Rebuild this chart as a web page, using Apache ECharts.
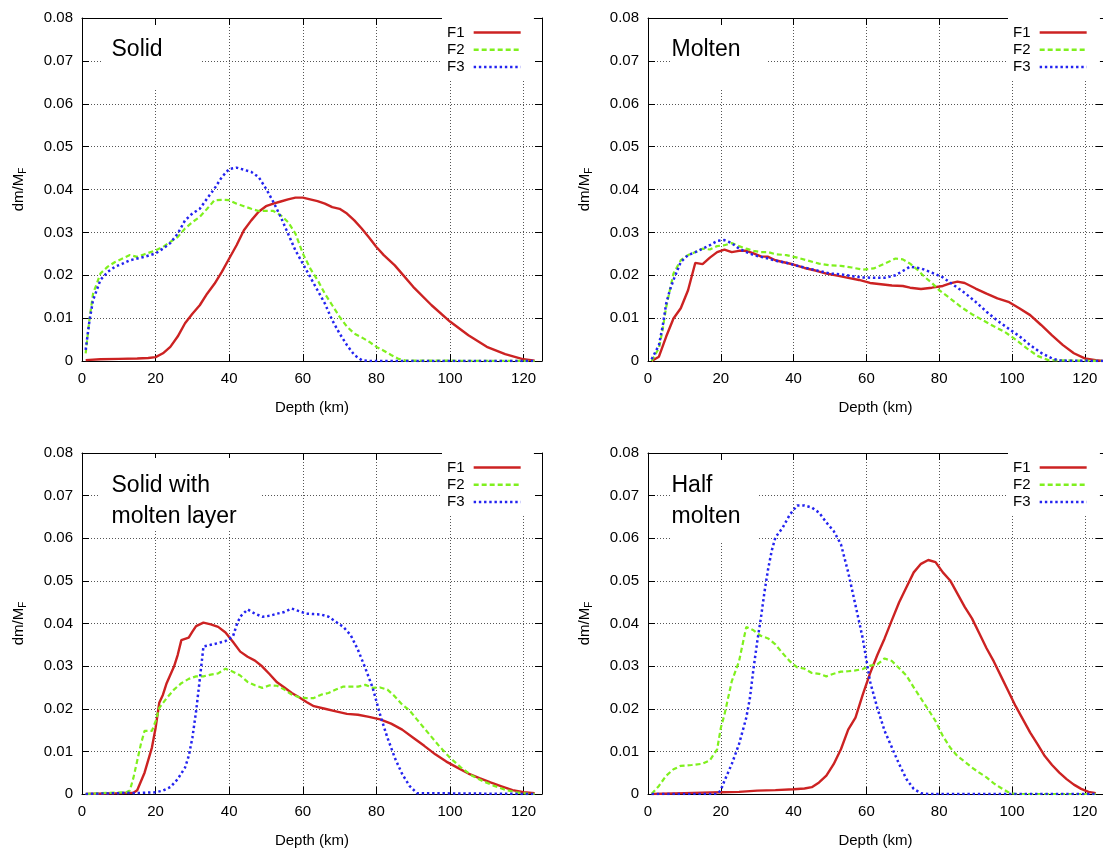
<!DOCTYPE html>
<html>
<head>
<meta charset="utf-8">
<script src="https://cdn.jsdelivr.net/npm/echarts@6/dist/echarts.min.js"></script>
<style>
html,body{margin:0;padding:0;background:#fff;}
#chart{width:1103px;height:849px;}
</style>
</head>
<body>
<div id="chart"></div>
<script>
// ---------------- DATA ----------------
const panelTitles = ['Solid', 'Molten', 'Solid with\nmolten layer', 'Half\nmolten'];
const seriesNames = ['F1', 'F2', 'F3'];
const xTicks = [0, 20, 40, 60, 80, 100, 120];
const yTicks = [0, 0.01, 0.02, 0.03, 0.04, 0.05, 0.06, 0.07, 0.08];

// Solid
const solidF1Depth = [1,5,10,15,18,20,22,24,26,28,30,32,34,36,38,40,42,44,46,48,50,52,54,56,58,60,62,64,66,68,70,72,74,76,78,80,82,85,90,95,100,105,110,115,120,123];
const solidF1 = [0.0002,0.0004,0.0005,0.0006,0.0007,0.0009,0.0018,0.0033,0.0057,0.0088,0.011,0.013,0.0157,0.018,0.0208,0.0239,0.027,0.0305,0.0328,0.0348,0.0361,0.0367,0.0372,0.0377,0.0381,0.0381,0.0377,0.0373,0.0367,0.0359,0.0355,0.0344,0.0328,0.0309,0.0288,0.0266,0.0247,0.0223,0.0173,0.013,0.0092,0.006,0.0033,0.0016,0.0004,0.0001];
const solidF2Depth = [1,2,3,4,5,7,9,11,13,15,17,20,22,24,26,28,30,32,34,36,38,40,42,44,46,48,50,52,54,56,58,60,62,64,66,68,70,72,74,76,78,80,82,84,86,88,123];
const solidF2 = [0.0018,0.0095,0.0157,0.018,0.0204,0.022,0.0231,0.0239,0.0247,0.0243,0.0249,0.0258,0.0266,0.0278,0.0289,0.0309,0.0324,0.0336,0.0355,0.0375,0.0376,0.0375,0.0367,0.0361,0.0355,0.035,0.035,0.035,0.034,0.0324,0.0297,0.0251,0.0216,0.0189,0.0157,0.013,0.0103,0.008,0.0064,0.0055,0.0045,0.0033,0.0024,0.0014,0.0005,0.0001,0];
const solidF3Depth = [1,2,3,4,5,7,9,11,13,15,17,20,22,24,26,28,30,32,34,36,38,40,42,44,46,48,50,52,54,56,58,60,62,64,66,68,70,72,74,76,78,123];
const solidF3 = [0.0026,0.0092,0.0142,0.0165,0.0189,0.0208,0.022,0.0227,0.0235,0.0239,0.0243,0.0251,0.0262,0.0275,0.0297,0.0328,0.0344,0.0355,0.0379,0.0402,0.0429,0.0448,0.0451,0.0446,0.0441,0.0429,0.0402,0.0371,0.0336,0.0297,0.0258,0.0227,0.0196,0.0165,0.0134,0.0095,0.0064,0.0037,0.0014,0.0002,0,0];

// Molten
const moltenF1Depth = [1,3,5,7,9,11,13,15,17,19,21,23,25,27,29,31,33,35,37,40,43,46,49,52,55,58,61,64,67,70,72,75,78,81,83,85,87,90,93,96,99,102,105,108,111,114,117,120,123,125];
const moltenF1 = [0,0.001,0.0057,0.0099,0.0123,0.0165,0.0229,0.0226,0.0241,0.0254,0.026,0.0254,0.0257,0.0257,0.0251,0.0244,0.0243,0.0235,0.0231,0.0225,0.0217,0.0211,0.0204,0.0199,0.0194,0.0189,0.0182,0.0179,0.0176,0.0175,0.0171,0.0168,0.0171,0.0175,0.0181,0.0185,0.0182,0.0169,0.0157,0.0146,0.0138,0.0123,0.0107,0.0084,0.006,0.0037,0.0018,0.0006,0.0002,0];
const moltenF2Depth = [1,3,4,5,6,7,9,11,13,15,17,19,21,23,25,27,29,31,33,35,38,41,44,47,50,53,56,59,62,65,68,70,72,74,76,78,80,83,86,89,92,95,98,101,104,107,110,125];
const moltenF2 = [0,0.003,0.0072,0.0126,0.0165,0.0204,0.0235,0.0247,0.0254,0.0262,0.026,0.0268,0.027,0.0275,0.0268,0.0262,0.0257,0.0254,0.0254,0.0249,0.0247,0.0241,0.0234,0.0227,0.0223,0.0222,0.0218,0.0213,0.0216,0.0227,0.0239,0.0237,0.0227,0.0213,0.0196,0.0182,0.0165,0.0146,0.0126,0.0109,0.0095,0.0081,0.0068,0.005,0.003,0.0012,0.0002,0];
const moltenF3Depth = [1,3,4,5,6,7,9,11,13,15,17,19,21,23,25,27,29,31,33,35,38,41,44,47,50,53,56,59,62,65,68,70,72,75,78,81,84,87,90,93,96,99,102,105,108,111,113,125];
const moltenF3 = [0.0004,0.0037,0.008,0.0134,0.0165,0.0189,0.0231,0.0247,0.0254,0.0262,0.027,0.028,0.0282,0.0275,0.0262,0.0254,0.0247,0.0243,0.0239,0.0234,0.0229,0.0222,0.0216,0.021,0.0204,0.0202,0.0198,0.0195,0.0194,0.0194,0.02,0.021,0.022,0.0216,0.0206,0.0195,0.0177,0.0159,0.0138,0.0115,0.0094,0.0076,0.0058,0.0037,0.0019,0.0006,0.0001,0];

// Solid with molten layer
const layerF1Depth = [1,10,14,15,17,19,20,21,22,23,25,26,27,29,30,31,33,35,37,39,41,43,45,47,49,51,53,55,57,59,61,63,66,69,72,75,78,81,84,87,90,93,96,99,102,105,108,111,114,117,120,123];
const layerF1 = [0,0.0002,0.0003,0.0009,0.005,0.0109,0.0155,0.0214,0.0233,0.026,0.0299,0.0326,0.0361,0.0367,0.0381,0.0394,0.0402,0.0398,0.0392,0.0379,0.0357,0.0334,0.0322,0.0313,0.0299,0.0281,0.0262,0.025,0.0237,0.0227,0.0216,0.0206,0.02,0.0194,0.0188,0.0186,0.0181,0.0175,0.0165,0.0151,0.0132,0.0113,0.0093,0.0076,0.0062,0.0048,0.0037,0.0027,0.0018,0.0009,0.0004,0.0002];
const layerF2Depth = [1,5,12,13,14,15,16,17,19,20,21,23,25,27,29,31,33,35,37,39,41,43,45,47,49,51,53,55,57,59,61,63,65,67,69,71,73,75,77,79,81,83,85,87,89,91,94,97,100,103,106,109,112,115,118,121,123];
const layerF2 = [0,0.0002,0.0004,0.0008,0.0039,0.0078,0.0117,0.0148,0.0148,0.0171,0.0202,0.0225,0.0245,0.026,0.027,0.0276,0.0276,0.028,0.0283,0.0294,0.0287,0.0278,0.0263,0.0255,0.0249,0.0255,0.0254,0.0245,0.0233,0.0227,0.0225,0.0225,0.0233,0.0237,0.0245,0.0252,0.0252,0.0252,0.0256,0.0249,0.025,0.0245,0.0229,0.021,0.0196,0.0175,0.0144,0.0113,0.0085,0.0062,0.0043,0.003,0.0019,0.001,0.0004,0.0001,0];
const layerF3Depth = [1,10,12,14,20,22,24,26,28,29,30,31,32,33,35,37,39,41,42,43,45,47,49,51,53,55,57,59,61,63,65,67,69,71,73,75,77,79,81,83,85,87,89,91,123];
const layerF3 = [0,0.0002,0.0003,0.0002,0.0004,0.0008,0.0016,0.0035,0.0062,0.0089,0.0132,0.0194,0.0268,0.0346,0.035,0.0354,0.0359,0.0369,0.0396,0.0416,0.0433,0.0423,0.0416,0.0418,0.0423,0.0427,0.0435,0.0429,0.0423,0.0422,0.0421,0.0416,0.0404,0.0392,0.0373,0.0338,0.0295,0.0249,0.0186,0.0132,0.0085,0.0047,0.0019,0.0002,0];

// Half molten
const halfF1Depth = [1,10,20,25,30,35,40,43,45,47,49,51,53,55,57,59,61,63,65,67,69,71,73,75,77,79,81,83,85,87,89,91,93,95,97,99,101,103,105,107,109,111,113,115,117,119,121,123];
const halfF1 = [0,0.0002,0.0004,0.0005,0.0008,0.0009,0.0011,0.0013,0.0016,0.0027,0.0043,0.007,0.0105,0.0151,0.0179,0.0233,0.0283,0.0326,0.0365,0.0408,0.045,0.0485,0.052,0.054,0.0549,0.0544,0.052,0.0501,0.047,0.0439,0.0412,0.0377,0.0342,0.0311,0.0276,0.0241,0.0206,0.0175,0.0144,0.0117,0.0089,0.0068,0.005,0.0035,0.0022,0.0012,0.0005,0.0002];
const halfF2Depth = [1,3,5,7,9,12,15,17,19,20,21,23,25,27,29,31,33,35,37,39,41,43,45,47,49,51,53,55,57,59,61,63,65,67,69,71,73,75,77,79,81,83,85,87,89,91,93,95,97,99,101,123];
const halfF2 = [0,0.0019,0.0043,0.0058,0.0066,0.0068,0.0071,0.0079,0.0105,0.0155,0.0186,0.0264,0.0311,0.0392,0.0384,0.0371,0.0365,0.0351,0.033,0.0311,0.0297,0.0294,0.0284,0.0282,0.0276,0.0282,0.0287,0.0288,0.029,0.0293,0.0301,0.0304,0.0318,0.0312,0.0295,0.0278,0.025,0.0224,0.0198,0.0171,0.0136,0.0109,0.0089,0.0076,0.0062,0.005,0.0039,0.0025,0.0014,0.0004,0,0];
const halfF3Depth = [1,19,20,21,23,25,27,28,29,30,31,32,33,34,35,37,39,41,43,45,47,49,51,53,55,57,59,61,63,65,67,69,71,73,75,77,123];
const halfF3 = [0,0,0.0009,0.0031,0.007,0.0117,0.0179,0.0225,0.0295,0.0357,0.0412,0.0474,0.0528,0.0571,0.0602,0.0625,0.0656,0.0677,0.0677,0.0672,0.066,0.0637,0.0617,0.0586,0.052,0.0443,0.0365,0.0264,0.0202,0.0148,0.0109,0.007,0.0035,0.0012,0.0002,0,0];

const panelDepths = [
  [solidF1Depth, solidF2Depth, solidF3Depth],
  [moltenF1Depth, moltenF2Depth, moltenF3Depth],
  [layerF1Depth, layerF2Depth, layerF3Depth],
  [halfF1Depth, halfF2Depth, halfF3Depth]
];
const panelValues = [
  [solidF1, solidF2, solidF3],
  [moltenF1, moltenF2, moltenF3],
  [layerF1, layerF2, layerF3],
  [halfF1, halfF2, halfF3]
];

// ---------------- LAYOUT / STYLE ----------------
const FONT = 'Liberation Sans, Arial, Helvetica, sans-serif';
const grids = [
  {left: 82, top: 18, width: 460, height: 343},
  {left: 648, top: 18, width: 460, height: 343},
  {left: 82, top: 453, width: 460, height: 344},
  {left: 648, top: 453, width: 460, height: 344}
];
// title boxes [x, y, w, h], text x, first-line center y
const titleBoxes = [
  {box: [102, 26, 99, 62], tx: 111.5, ty: 50},
  {box: [670, 26, 98, 63], tx: 671.5, ty: 50},
  {box: [100, 458, 160, 73], tx: 111.5, ty: 485.5},
  {box: [670, 462, 87, 81], tx: 671.5, ty: 485.5}
];
const lineStyles = [
  {color: '#cc2222', width: 2.4, type: 'solid'},
  {color: '#7ff01e', width: 2.2, type: [5, 3]},
  {color: '#2323f0', width: 2.5, type: [2.4, 2.8]}
];

const xAxes = [], yAxes = [], series = [], legends = [], graphics = [];
grids.forEach((g, i) => {
  xAxes.push({
    gridIndex: i, type: 'value', min: xTicks[0], max: 125, interval: xTicks[1] - xTicks[0],
    position: 'bottom',
    name: 'Depth (km)', nameLocation: 'middle', nameGap: 39,
    nameTextStyle: {fontSize: 15, color: '#000', fontFamily: FONT},
    axisLine: {show: true, onZero: false, lineStyle: {color: '#000', width: 1}},
    axisTick: {show: true, inside: true, length: 7, lineStyle: {color: '#000'}},
    axisLabel: {fontSize: 15, color: '#000', margin: 10, fontFamily: FONT, showMaxLabel: false},
    splitLine: {show: true, lineStyle: {type: [1, 2], color: '#555', width: 1}}
  });
  xAxes.push({
    gridIndex: i, type: 'value', min: xTicks[0], max: 125, interval: xTicks[1] - xTicks[0],
    position: 'top',
    axisLine: {show: true, onZero: false, lineStyle: {color: '#000', width: 1}},
    axisTick: {show: true, inside: true, length: 7, lineStyle: {color: '#000'}},
    axisLabel: {show: false}, splitLine: {show: false}
  });
  yAxes.push({
    gridIndex: i, type: 'value', min: yTicks[0], max: yTicks[yTicks.length - 1], interval: 0.01,
    position: 'left',
    name: '{a|dm/M}{b|F}', nameLocation: 'middle', nameGap: 54,
    nameTextStyle: {color: '#000', fontFamily: FONT,
      rich: {a: {fontSize: 15, color: '#000', fontFamily: FONT},
             b: {fontSize: 10, color: '#000', fontFamily: FONT, padding: [9, 0, 0, 0]}}},
    axisLine: {show: true, onZero: false, lineStyle: {color: '#000', width: 1}},
    axisTick: {show: true, inside: true, length: 7, lineStyle: {color: '#000'}},
    axisLabel: {fontSize: 15, color: '#000', margin: 9, fontFamily: FONT},
    splitLine: {show: true, lineStyle: {type: [1, 2], color: '#555', width: 1}}
  });
  yAxes.push({
    gridIndex: i, type: 'value', min: yTicks[0], max: yTicks[yTicks.length - 1], interval: 0.01,
    position: 'right',
    axisLine: {show: true, onZero: false, lineStyle: {color: '#000', width: 1}},
    axisTick: {show: true, inside: true, length: 7, lineStyle: {color: '#000'}},
    axisLabel: {show: false}, splitLine: {show: false}
  });
  seriesNames.forEach((name, k) => {
    const d = panelDepths[i][k], v = panelValues[i][k];
    series.push({
      name: name, type: 'line', xAxisIndex: 2 * i, yAxisIndex: 2 * i,
      data: d.map((x, j) => [x, v[j]]),
      symbol: 'none', smooth: false, animation: false,
      color: lineStyles[k].color,
      lineStyle: lineStyles[k]
    });
  });
  legends.push({
    data: seriesNames, orient: 'vertical', align: 'right',
    left: g.left + 360, top: g.top, padding: [7, 12, 5, 5],
    backgroundColor: '#fff',
    itemWidth: 47, itemHeight: 14, itemGap: 2.3,
    itemStyle: {opacity: 0},
    lineStyle: {width: 2.5},
    formatter: n => n + ' ',
    selectedMode: false,
    textStyle: {fontSize: 15, color: '#000', fontFamily: FONT, lineHeight: 14}
  });
  const tb = titleBoxes[i];
  graphics.push({
    type: 'rect', z: 50, silent: true,
    shape: {x: tb.box[0], y: tb.box[1], width: tb.box[2], height: tb.box[3]},
    style: {fill: '#fff'}
  });
  graphics.push({
    type: 'text', z: 51, silent: true,
    x: tb.tx, y: tb.ty - 15.5,
    style: {text: panelTitles[i], font: '23px ' + FONT, fill: '#000',
            textVerticalAlign: 'top', lineHeight: 31}
  });
});

const chart = echarts.init(document.getElementById('chart'), null, {renderer: 'canvas'});
chart.setOption({
  animation: false,
  backgroundColor: '#fff',
  textStyle: {fontFamily: FONT},
  grid: grids,
  xAxis: xAxes,
  yAxis: yAxes,
  legend: legends,
  series: series,
  graphic: graphics
});
</script>
</body>
</html>
